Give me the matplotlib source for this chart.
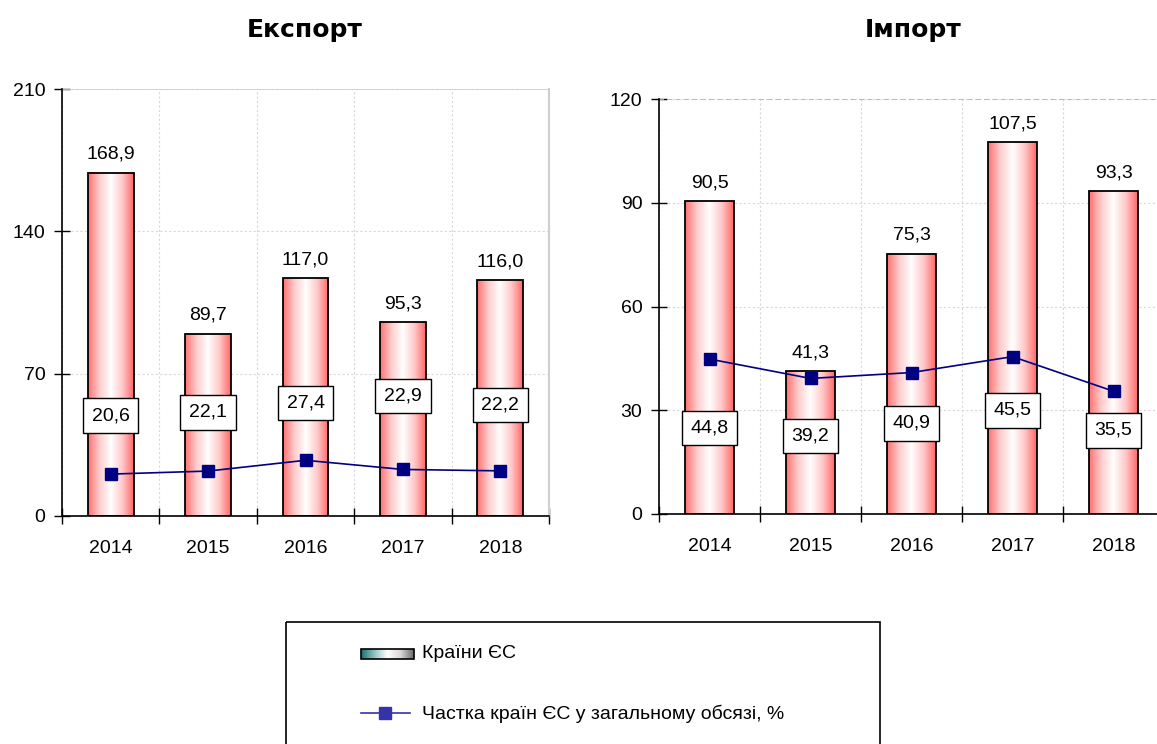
import numpy as np
from matplotlib import pyplot as plt
from matplotlib import colors as mcolors
from matplotlib.patches import Rectangle
from matplotlib.lines import Line2D

##########
# Data   #
##########

years = ["2014", "2015", "2016", "2017", "2018"]

export_eu = [168.9, 89.7, 117.0, 95.3, 116.0]
export_share = [20.6, 22.1, 27.4, 22.9, 22.2]

import_eu = [90.5, 41.3, 75.3, 107.5, 93.3]
import_share = [44.8, 39.2, 40.9, 45.5, 35.5]

export_yticks = [0, 70, 140, 210]
import_yticks = [0, 30, 60, 90, 120]

# where the boxed share labels sit (data units), as in the original layout
export_box_y = [49.4, 51.0, 55.5, 59.0, 54.5]
import_box_y = [24.8, 22.5, 26.2, 30.0, 24.2]

titles = ["Експорт", "Імпорт"]
legend_labels = ["Країни ЄС", "Частка країн ЄС у загальному обсязі, %"]

##########
# Style  #
##########

plt.rcParams['font.family'] = ['Liberation Sans', 'DejaVu Sans']
FS = 14
bar_cmap = mcolors.LinearSegmentedColormap.from_list(
    "redwhite", ["#ff7070", "#ffcccc", "#ffffff", "#ffc8c8", "#ff6666"])
leg_cmap = mcolors.LinearSegmentedColormap.from_list(
    "teal", ["#1f6f6c", "#8fc2bf", "#ffffff", "#d8d8d8", "#6a6a6a"])


def fmt(v):
    return f"{v:.1f}".replace(".", ",")


def draw_panel(ax, bars, share, yticks, box_y, width, top_style):
    x = np.arange(len(bars))
    grad = np.linspace(0, 1, 256).reshape(1, -1)
    for xi, h in zip(x, bars):
        ax.imshow(grad, cmap=bar_cmap, extent=[xi - width / 2, xi + width / 2, 0, h],
                  aspect='auto', zorder=2, interpolation='bilinear')
    ax.bar(x, bars, width=width, facecolor='none', edgecolor='black',
           linewidth=1.3, zorder=3)
    for xi, h in zip(x, bars):
        ax.annotate(fmt(h), (xi, h), xytext=(0, 7), textcoords='offset points',
                    ha='center', va='bottom', fontsize=FS)

    ax.plot(x, share, color='#000080', lw=1.2, marker='s', ms=9,
            markerfacecolor='#000080', markeredgecolor='#000080', zorder=5)
    for xi, v, by in zip(x, share, box_y):
        ax.text(xi, by, fmt(v), ha='center', va='center', fontsize=FS, zorder=6,
                bbox=dict(boxstyle='square,pad=0.45', fc='white', ec='black', lw=1))

    ax.set_xlim(-0.5, len(bars) - 0.5)
    ax.set_ylim(yticks[0], yticks[-1])
    ax.set_yticks(yticks)
    ax.set_xticks(np.arange(len(bars) + 1) - 0.5)
    ax.set_xticklabels([])
    ax.set_xticks(x, minor=True)
    ax.set_xticklabels(years, minor=True)
    ax.tick_params(axis='x', which='minor', length=0, pad=17, labelsize=FS)
    ax.tick_params(axis='x', which='major', direction='inout', length=12, width=1)
    ax.tick_params(axis='y', direction='inout', length=12, width=1, pad=6, labelsize=FS)

    ax.set_axisbelow(True)
    ax.grid(axis='x', which='major', color='#d8d8d8', ls=(0, (2, 2)), lw=0.8)
    ax.grid(axis='y', color='#d8d8d8', ls=(0, (2, 2)), lw=0.8)
    for s in ['left', 'bottom']:
        ax.spines[s].set_color('black')
        ax.spines[s].set_linewidth(1.2)
    ax.spines['top'].set_visible(False)
    if top_style == 'dashed':
        ax.axhline(yticks[-1], color='#b0b0b0', ls=(0, (3, 2)), lw=1.2, zorder=1)
        ax.spines['right'].set_visible(False)
    else:
        ax.axhline(yticks[-1], color='#cfcfcf', lw=1.2, zorder=1)
        ax.spines['right'].set_color('#cfcfcf')
        ax.spines['right'].set_linewidth(1.5)


W, H = 1157, 744
fig = plt.figure(figsize=(W / 100, H / 100), dpi=100)

ax1 = fig.add_axes([62 / W, 1 - 516 / H, 487 / W, 427 / H])
ax2 = fig.add_axes([659 / W, 1 - 514 / H, 505 / W, 415 / H])

draw_panel(ax1, export_eu, export_share, export_yticks, export_box_y, 0.47, 'solid')
draw_panel(ax2, import_eu, import_share, import_yticks, import_box_y, 0.48, 'dashed')

fig.text(305 / W, 1 - 30 / H, titles[0], ha='center', va='center', fontsize=18,
         fontweight='bold', family='DejaVu Sans')
fig.text(913 / W, 1 - 30 / H, titles[1], ha='center', va='center', fontsize=18,
         fontweight='bold', family='DejaVu Sans')

# legend, drawn by hand in pixel coordinates
lax = fig.add_axes([0, 0, 1, 1], zorder=10)
lax.axis('off')
lax.add_patch(Rectangle((286, 622), 594, 140, fill=False, ec='black', lw=1.2))
lax.imshow(np.linspace(0, 1, 256).reshape(1, -1), cmap=leg_cmap,
           extent=[361, 414, 659, 649], aspect='auto', interpolation='bilinear')
lax.add_patch(Rectangle((361, 649), 53, 10, fill=False, ec='black', lw=1.2))
lax.add_line(Line2D([361, 410], [713, 713], color='#3333aa', lw=1.2))
lax.add_line(Line2D([385], [713], marker='s', ms=8, color='#3333aa'))
lax.set_xlim(0, W)
lax.set_ylim(H, 0)
lax.text(422, 654, legend_labels[0], ha='left', va='center', fontsize=FS)
lax.text(422, 714, legend_labels[1], ha='left', va='center', fontsize=FS)

fig.savefig("out.png", dpi=100)
